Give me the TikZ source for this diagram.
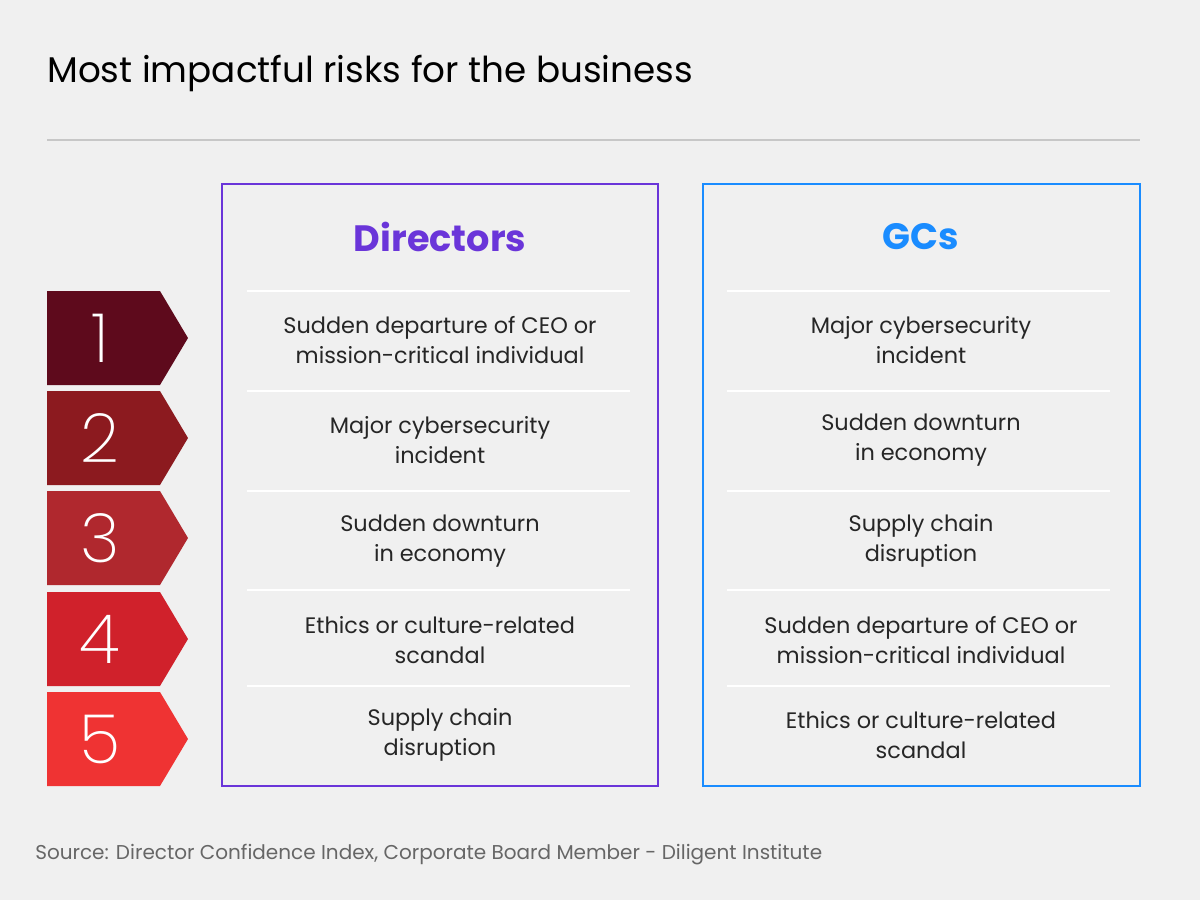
\documentclass[tikz,border=0pt]{standalone}
\usepackage{fontspec}
\setmainfont{Poppins}
\newfontfamily\thinf{Poppins ExtraLight}
\begin{document}
\begin{tikzpicture}[x=0.75pt,y=-0.75pt,
  rowtxt/.style={align=center,font=\fontsize{16.8}{22}\selectfont,text=black!85},
  sep/.style={draw=white,line width=2.2pt},
  numtxt/.style={text=white,font=\thinf\fontsize{51}{51}\selectfont},
  tag/.style={inner sep=0}]
\fill[black!6] (0,0) rectangle (1200,900);
\useasboundingbox (0,0) rectangle (1200,900);
\node[anchor=base west,inner sep=0,font=\fontsize{26.8}{30}\selectfont] (title) at (47,82) {Most impactful risks for the business};
\coordinate (r1) at (47,140); \coordinate (r2) at (1140,140);
\draw[black!22,line width=1pt] (r1) -- (r2);
\node[draw={rgb,255:red,106;green,53;blue,217},line width=1.4pt,minimum width=327pt,minimum height=451.5pt,inner sep=0] (dbox) at (440,485) {};
\node[draw={rgb,255:red,26;green,140;blue,255},line width=1.4pt,minimum width=327.75pt,minimum height=451.5pt,inner sep=0] (gbox) at (921.5,485) {};
\node[font=\bfseries\fontsize{27.5}{30}\selectfont,text={rgb,255:red,106;green,53;blue,217}] (dh) at (440,237) {Directors};
\node[font=\bfseries\fontsize{27.5}{30}\selectfont,text={rgb,255:red,26;green,140;blue,255}] (gh) at (921,237) {GCs};
\foreach \y in {291,391,491,590,686}{
  \draw[sep] (247,\y) -- (630,\y);
  \draw[sep] (727,\y) -- (1110,\y);
}
\node[rowtxt] (d1) at (440,340) {Sudden departure of CEO or\\mission-critical individual};
\node[rowtxt] (d2) at (440,440) {Major cybersecurity\\incident};
\node[rowtxt] (d3) at (440,541) {Sudden downturn\\in economy};
\node[rowtxt] (d4) at (440,640) {Ethics or culture-related\\scandal};
\node[rowtxt] (d5) at (440,735) {Supply chain\\disruption};
\node[rowtxt] (g1) at (921,340) {Major cybersecurity\\incident};
\node[rowtxt] (g2) at (921,440) {Sudden downturn\\in economy};
\node[rowtxt] (g3) at (921,541) {Supply chain\\disruption};
\node[rowtxt] (g4) at (921,640) {Sudden departure of CEO or\\mission-critical individual};
\node[rowtxt] (g5) at (921,735) {Ethics or culture-related\\scandal};
\definecolor{c1}{HTML}{5E0A1C}\definecolor{c2}{HTML}{8C1A1F}\definecolor{c3}{HTML}{B0282E}
\definecolor{c4}{HTML}{D0212B}\definecolor{c5}{HTML}{EF3333}
\foreach \i/\t/\b in {1/291/385,2/391/485,3/491/585,4/592/686,5/692/786}{
  \fill[c\i] (47,\t) -- (160,\t) -- (188,{(\t+\b)/2}) -- (160,\b) -- (47,\b) -- cycle;
  \node[numtxt] (n\i) at (100,{(\t+\b)/2}) {\i};
}
\node[anchor=base west,inner sep=0,font=\fontsize{15}{18}\selectfont,text=black!60] (src) at (35,859) {Source: Director Confidence Index, Corporate Board Member - Diligent Institute};
\end{tikzpicture}
\end{document}
